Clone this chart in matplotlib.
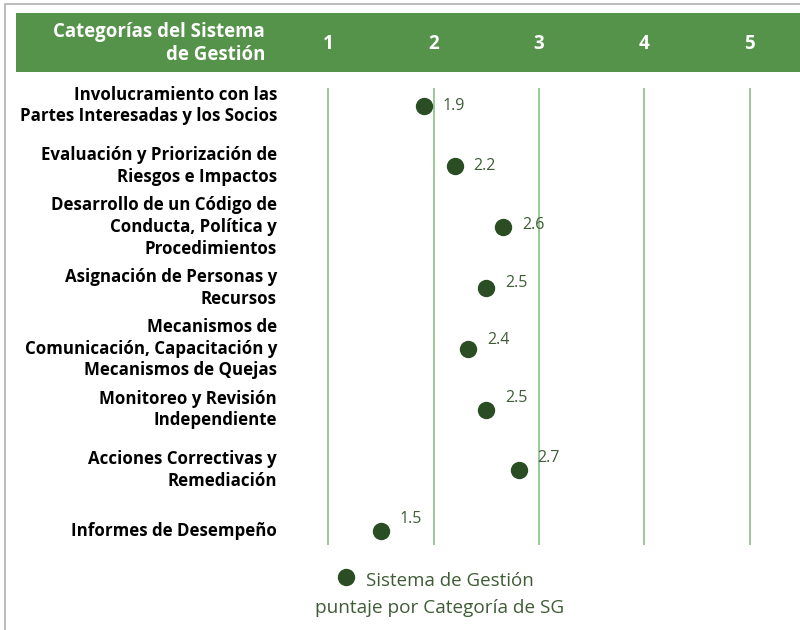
import matplotlib
matplotlib.use("Agg")
import matplotlib.pyplot as plt
from matplotlib.patches import Rectangle

plt.rcParams['font.family'] = ['Open Sans', 'DejaVu Sans']

categories = [
    "Involucramiento con las\nPartes Interesadas y los Socios",
    "Evaluación y Priorización de\nRiesgos e Impactos",
    "Desarrollo de un Código de\nConducta, Política y\nProcedimientos",
    "Asignación de Personas y\nRecursos",
    "Mecanismos de\nComunicación, Capacitación y\nMecanismos de Quejas",
    "Monitoreo y Revisión\nIndependiente",
    "Acciones Correctivas y\nRemediación",
    "Informes de Desempeño",
]
scores = [1.91, 2.20, 2.66, 2.50, 2.33, 2.50, 2.81, 1.50]
score_labels = ["1.9", "2.2", "2.6", "2.5", "2.4", "2.5", "2.7", "1.5"]
x_ticks = [1, 2, 3, 4, 5]
header_title = "Categorías del Sistema\nde Gestión"
legend_line1 = "Sistema de Gestión"
legend_line2 = "puntaje por Categoría de SG"

# layout (pixels)
W, H = 800, 630
x0_px, px_per_unit = 223.0, 105.3
y0_px, px_per_row = 105.5, 60.8
label_dy = [0, 0, -2, -5, -9, -12, -12, -12]

GREEN = "#55924A"
GRID = "#93C68C"
DOT = "#2A4D24"
TXT = "#3F5C37"

fig = plt.figure(figsize=(W / 100, H / 100), dpi=100)
ax = fig.add_axes([0, 0, 1, 1])
ax.set_xlim(-x0_px / px_per_unit, (W - x0_px) / px_per_unit)
ax.set_ylim((H - y0_px) / px_per_row, -y0_px / px_per_row)
ax.axis("off")

def px2x(px):
    return (px - x0_px) / px_per_unit

def py2y(py):
    return (py - y0_px) / px_per_row

# outer frame
ax.plot([px2x(5), px2x(5), px2x(800)], [py2y(630), py2y(4), py2y(4)],
        color="#BDBDBD", lw=1.5, solid_capstyle="butt")

# header band
ax.add_patch(Rectangle((px2x(16), py2y(13)), px2x(800) - px2x(16), py2y(72) - py2y(13),
                       facecolor=GREEN, edgecolor="none"))
ax.text(px2x(265), py2y(43), header_title, ha="right", va="center", color="white",
        fontsize=13.4, fontweight="bold", linespacing=1.2)
for t in x_ticks:
    ax.text(t, py2y(44), str(t), ha="center", va="center", color="white",
            fontsize=13.5, fontweight="bold")

# grid lines
ax.vlines(x_ticks, py2y(88), py2y(545), color=GRID, lw=1.3)

# category labels
for i, c in enumerate(categories):
    ax.text(px2x(277), i, c, ha="right", va="center", color="black",
            fontsize=12.2, fontweight="bold", linespacing=1.26)

# dots and values
ax.plot(scores, range(len(scores)), "o", color=DOT, markersize=11.5, zorder=3)
for i, (s, lab) in enumerate(zip(scores, score_labels)):
    ax.annotate(lab, (s, i), xytext=(13.5, -label_dy[i] * 0.72), textcoords="offset points",
                ha="left", va="center", color=TXT, fontsize=11.5)

# legend
ax.plot([px2x(346)], [py2y(577)], "o", color=DOT, markersize=11.5)
ax.text(px2x(366), py2y(581), legend_line1, ha="left", va="center", color=TXT, fontsize=13.5)
ax.text(px2x(440), py2y(608), legend_line2, ha="center", va="center", color=TXT, fontsize=13.7)

fig.savefig("out.png", dpi=100)
